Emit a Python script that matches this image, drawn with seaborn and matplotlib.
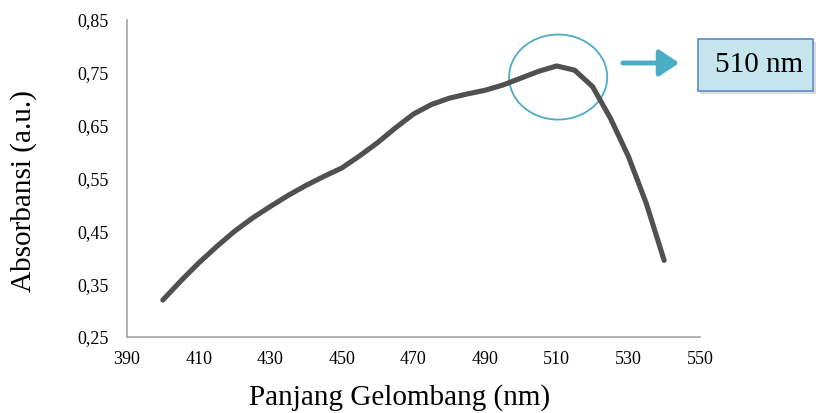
import matplotlib
matplotlib.use("Agg")
import matplotlib.pyplot as plt
import seaborn as sns
import pandas as pd
from matplotlib.patches import Ellipse, Rectangle, FancyArrowPatch
from matplotlib.ticker import FuncFormatter

wavelength = [400, 405, 410, 415, 420, 425, 430, 435, 440, 445, 450, 455, 460, 465,
              470, 475, 480, 485, 490, 495, 500, 505, 510, 515, 520, 525, 530, 535, 540]
absorbance = [0.320, 0.356, 0.390, 0.421, 0.450, 0.475, 0.497, 0.518, 0.537, 0.554,
              0.570, 0.593, 0.618, 0.646, 0.672, 0.690, 0.702, 0.710, 0.717, 0.727,
              0.740, 0.753, 0.763, 0.755, 0.724, 0.664, 0.592, 0.503, 0.395]
x_ticks = [390, 410, 430, 450, 470, 490, 510, 530, 550]
y_ticks = [0.25, 0.35, 0.45, 0.55, 0.65, 0.75, 0.85]
peak_label = "510 nm"

df = pd.DataFrame({"x": wavelength, "y": absorbance})

sns.set_style("white")
plt.rcParams['font.family'] = ['Liberation Serif', 'DejaVu Serif']
plt.rcParams['text.color'] = 'black'
plt.rcParams['axes.labelcolor'] = 'black'
plt.rcParams['xtick.color'] = 'black'
plt.rcParams['ytick.color'] = 'black'

fig = plt.figure(figsize=(8.18, 4.13), dpi=100)
ax = fig.add_axes([0.1553, 0.184, 0.7004, 0.7676])

sns.lineplot(data=df, x="x", y="y", ax=ax, color="#505050", linewidth=3.7,
             solid_capstyle="round", solid_joinstyle="round")

ax.set_xlim(390, 550)
ax.set_ylim(0.25, 0.85)
ax.set_xticks(x_ticks)
ax.set_yticks(y_ticks)
ax.yaxis.set_major_formatter(FuncFormatter(lambda v, p: f"{v:.2f}".replace('.', ',')))
ax.tick_params(axis='both', labelsize=13, length=0, labelcolor='black')
ax.tick_params(axis='y', pad=13)
ax.tick_params(axis='x', pad=10)
for s in ["top", "right"]:
    ax.spines[s].set_visible(False)
for s in ["left", "bottom"]:
    ax.spines[s].set_color("#A6A6A6")
    ax.spines[s].set_linewidth(1.2)

ax.set_xlabel("Panjang Gelombang (nm)", fontsize=21, color='black')
ax.xaxis.label.set_va("center")
ax.xaxis.set_label_coords(0.476, -0.19)
ax.set_ylabel("Absorbansi (a.u.)", fontsize=21, color='black')
ax.yaxis.label.set_va("center")
ax.yaxis.set_label_coords(-0.18, 0.46)

# circle around peak
ell = Ellipse((510.4, 0.742), 27.4, 0.161, fill=False, edgecolor="#4BACC6",
              linewidth=1.3, clip_on=False)
ax.add_patch(ell)

# arrow
arr = FancyArrowPatch((620 / 818, 1 - 63 / 413), (682 / 818, 1 - 63 / 413),
                      transform=fig.transFigure, arrowstyle="-|>,head_length=6,head_width=4",
                      color="#4BACC6", linewidth=3.5, mutation_scale=2)
fig.patches.append(arr)

# text box with shadow
shadow = Rectangle((700 / 818, 1 - 94 / 413), 116 / 818, 52 / 413, transform=fig.transFigure,
                   facecolor="#BBBBBB", edgecolor="none", alpha=0.5)
box = Rectangle((698 / 818, 1 - 91 / 413), 115 / 818, 52 / 413, transform=fig.transFigure,
                facecolor="#C6E5EF", edgecolor="#5B8EC9", linewidth=1.2)
fig.patches.append(shadow)
fig.patches.append(box)
fig.text(759 / 818, 1 - 65 / 413, peak_label, ha="center", va="center", fontsize=21,
         color='black')

fig.savefig("out.png", dpi=100)
